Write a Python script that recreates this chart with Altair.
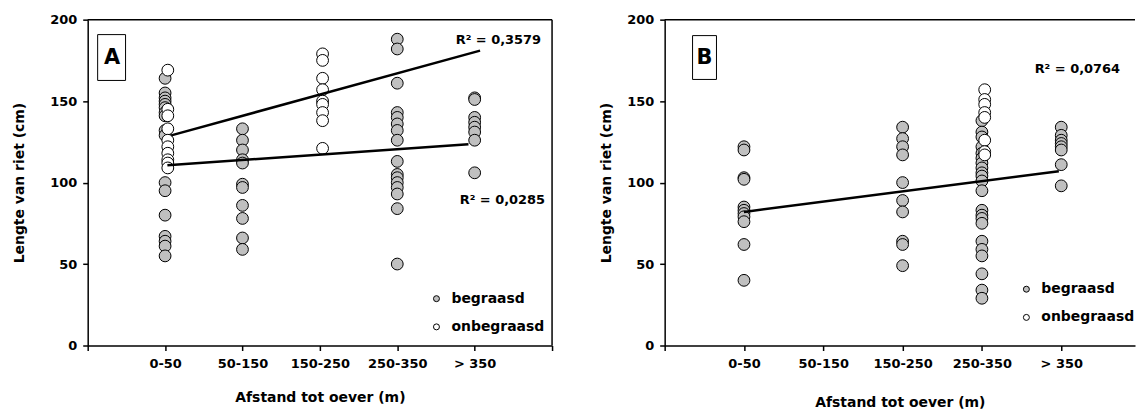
import json
import altair as alt
import pandas as pd

# ---------------- data ----------------
categories = ["0-50", "50-150", "150-250", "250-350", "> 350"]
series_names = ["begraasd", "onbegraasd"]
series_colors = ["#c0c0c0", "#ffffff"]

# panel A (values per category, in category order)
a_begraasd = [
    [164, 155, 152, 150, 148, 146, 143, 141, 132, 129, 100, 95, 80, 67, 64, 61, 55],
    [133, 126, 120, 114, 112, 99, 97, 86, 78, 66, 59],
    [],
    [188, 182, 161, 143, 140, 136, 132, 126, 113, 105, 103, 100, 97, 93, 84, 50],
    [152, 151, 140, 137, 134, 131, 126, 106],
]
a_onbegraasd = [
    [169, 145, 141, 133, 126, 122, 118, 114, 112, 109],
    [],
    [179, 175, 164, 157, 150, 148, 143, 138, 121],
    [],
    [],
]
# panel B
b_begraasd = [
    [122, 120, 103, 102, 85, 83, 81, 79, 76, 62, 40],
    [],
    [134, 127, 122, 117, 100, 89, 82, 64, 62, 49],
    [138, 131, 128, 122, 118, 115, 112, 109, 106, 104, 101, 95, 83, 80, 78,
     75, 64, 59, 55, 44, 34, 29],
    [134, 129, 126, 124, 122, 120, 111, 98],
]
b_onbegraasd = [[], [], [], [157, 151, 148, 143, 140, 126, 119, 117], []]

# trend lines (category position, value) at both ends
a_trend_onbeg_x = [1.08, 5.07]
a_trend_onbeg_y = [129, 181]
a_trend_beg_x = [1.03, 4.92]
a_trend_beg_y = [110.7, 123.5]
b_trend_x = [1.0, 4.97]
b_trend_y = [82, 107]

a_r2 = ["R\u00b2 = 0,3579", "R\u00b2 = 0,0285"]
b_r2 = ["R\u00b2 = 0,0764"]

y_title = "Lengte van riet (cm)"
x_title = "Afstand tot oever (m)"
FONT = "DejaVu Sans"
WHITE_SHIFT = 0.035


def points_frame(beg, onbeg):
    rows = []
    for name, groups, shift in ((series_names[0], beg, 0.0), (series_names[1], onbeg, WHITE_SHIFT)):
        for i, vals in enumerate(groups):
            for v in vals:
                rows.append({"x": i + 1 + shift, "y": v, "serie": name})
    return pd.DataFrame(rows)


def lines_frame(lines):
    rows = []
    for lid, (xs, ys) in enumerate(lines):
        for xv, yv in zip(xs, ys):
            rows.append({"x": xv, "y": yv, "lid": lid})
    return pd.DataFrame(rows)


label_expr = ("datum.value >= 1 && datum.value <= 5 ? " + json.dumps(categories)
              + "[datum.value - 1] : ''")


def panel(beg, onbeg, lines, r2_texts, r2_pos, letter, box, letter_pos,
          legend_xy, width, xmax, ytitlepad, xtitlepad, right_border):
    x_enc = alt.X("x:Q", scale=alt.Scale(domain=[0, xmax], nice=False, zero=False),
                  axis=alt.Axis(values=list(range(int(xmax) + 1)), labelExpr=label_expr,
                                title=x_title, titlePadding=xtitlepad, labelPadding=7))
    y_enc = alt.Y("y:Q", scale=alt.Scale(domain=[0, 200], nice=False),
                  axis=alt.Axis(values=[0, 50, 100, 150, 200], title=y_title,
                                titlePadding=ytitlepad, labelPadding=6))
    pts = alt.Chart(points_frame(beg, onbeg)).mark_point(
        shape="circle", filled=True, size=140, stroke="black", strokeWidth=1, opacity=1
    ).encode(
        x=x_enc, y=y_enc,
        fill=alt.Fill("serie:N", title=None,
                      scale=alt.Scale(domain=series_names, range=series_colors),
                      legend=alt.Legend(orient="none", legendX=legend_xy[0], legendY=legend_xy[1],
                                        symbolType="circle", symbolSize=36,
                                        symbolStrokeColor="black", symbolStrokeWidth=1,
                                        labelFont=FONT, labelFontSize=14, labelFontWeight="bold",
                                        labelColor="black", labelOffset=8, rowPadding=14.3,
                                        padding=0)),
    )
    trend = alt.Chart(lines_frame(lines)).mark_line(color="black", strokeWidth=2.5).encode(
        x="x:Q", y="y:Q", detail="lid:N")
    top = alt.Chart(pd.DataFrame({"y": [200]})).mark_rule(color="black", strokeWidth=1.5).encode(
        y="y:Q")
    layers = [pts, trend, top]
    if right_border:
        layers.append(alt.Chart(pd.DataFrame({"x": [xmax]})).mark_rule(
            color="black", strokeWidth=1.5).encode(x="x:Q"))
    for txt, (tx, ty) in zip(r2_texts, r2_pos):
        layers.append(alt.Chart(pd.DataFrame({"t": [txt]})).mark_text(
            align="right", baseline="middle", font=FONT, fontSize=13, fontWeight="bold",
            color="black").encode(x=alt.value(tx), y=alt.value(ty), text="t:N"))
    layers.append(alt.Chart(pd.DataFrame({"t": [letter]})).mark_rect(
        fill="white", stroke="black", strokeWidth=1).encode(
        x=alt.value(box[0]), x2=alt.value(box[1]), y=alt.value(box[2]), y2=alt.value(box[3])))
    layers.append(alt.Chart(pd.DataFrame({"t": [letter]})).mark_text(
        align="center", baseline="middle", font=FONT, fontSize=21, fontWeight="bold",
        color="black").encode(x=alt.value(letter_pos[0]), y=alt.value(letter_pos[1]), text="t:N"))
    return alt.layer(*layers).properties(width=width, height=327)


chart_a = panel(a_begraasd, a_onbegraasd,
                [(a_trend_onbeg_x, a_trend_onbeg_y), (a_trend_beg_x, a_trend_beg_y)],
                a_r2, [(455, 20), (459, 181)], "A", (10, 38, 15, 61), (24.5, 38.5),
                (343, 273), 466, 6, 23, 20, True)
chart_b = panel(b_begraasd, b_onbegraasd, [(b_trend_x, b_trend_y)],
                b_r2, [(457, 50)], "B", (28, 52, 16, 60), (40, 38.5),
                (356, 263.5), 472, 5.93, 13, 25, False)

chart = alt.hconcat(chart_a, chart_b, spacing=46).resolve_scale(
    fill="independent").resolve_legend(fill="independent").properties(
    padding={"left": 12, "top": 13, "right": 0, "bottom": 0},
    background="white",
).configure_axis(
    labelFont=FONT, labelFontWeight="bold", labelFontSize=13, labelColor="black",
    titleFont=FONT, titleFontWeight="bold", titleFontSize=14, titleColor="black",
    domainColor="black", domainWidth=1.5, tickColor="black", tickWidth=1.5, tickSize=5,
    grid=False,
).configure_view(strokeWidth=0)

chart.save("out.html", embed_options={"renderer": "svg", "actions": False})
